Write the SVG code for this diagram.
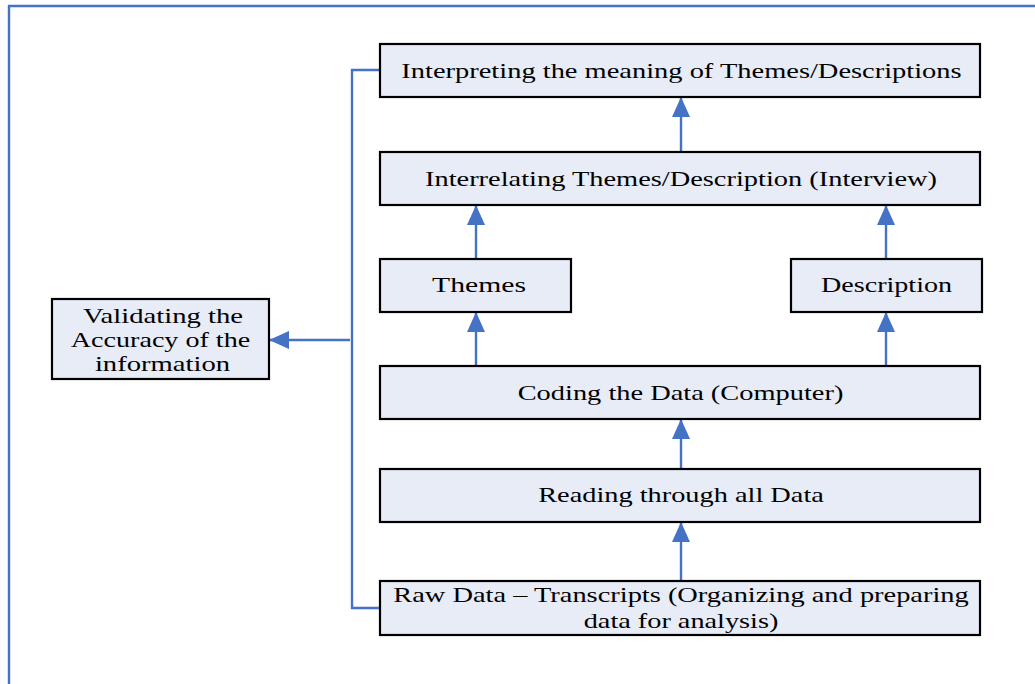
<svg xmlns="http://www.w3.org/2000/svg" width="1035" height="684" viewBox="0 0 1035 684">
  <style>
    .box { fill: #E7ECF7; stroke: #000; stroke-width: 2.2; }
    .lbl { font-family: "Liberation Serif", "Times New Roman", serif; font-size: 21px; fill: #000; text-anchor: middle; }
    .wire { fill: none; stroke: #4472C4; stroke-width: 2.4; }
  </style>
  <defs>
    <marker id="tip" viewBox="0 0 20 18" refX="20" refY="9" markerWidth="20" markerHeight="18" markerUnits="userSpaceOnUse" orient="auto">
      <path d="M0,0 L20,9 L0,18 Z" fill="#4472C4"/>
    </marker>
  </defs>

  <!-- outer frame -->
  <path d="M9,684 L9,6 L1035,6" fill="none" stroke="#4472C4" stroke-width="2.4"/>

  <!-- connectors -->
  <g id="connectors">
    <line class="wire" x1="681" y1="152" x2="681" y2="97" marker-end="url(#tip)"/>
    <line class="wire" x1="476" y1="259" x2="476" y2="205" marker-end="url(#tip)"/>
    <line class="wire" x1="886" y1="259" x2="886" y2="205" marker-end="url(#tip)"/>
    <line class="wire" x1="476" y1="366" x2="476" y2="312" marker-end="url(#tip)"/>
    <line class="wire" x1="886" y1="366" x2="886" y2="312" marker-end="url(#tip)"/>
    <line class="wire" x1="681" y1="469" x2="681" y2="419" marker-end="url(#tip)"/>
    <line class="wire" x1="681" y1="581" x2="681" y2="522" marker-end="url(#tip)"/>
    <path class="wire" d="M380,70 L352,70 L352,608 L380,608"/>
    <line class="wire" x1="350" y1="340" x2="269" y2="340" marker-end="url(#tip)"/>
  </g>

  <!-- labels are set in a wide Times face: scaled 1.38x horizontally -->
  <g id="interpreting">
    <rect class="box" x="380" y="44" width="600" height="53"/>
    <text class="lbl" transform="translate(681.5,78) scale(1.38,1)" textLength="406" lengthAdjust="spacingAndGlyphs">Interpreting the meaning of Themes/Descriptions</text>
  </g>
  <g id="interrelating">
    <rect class="box" x="380" y="152" width="600" height="53"/>
    <text class="lbl" transform="translate(681,186) scale(1.38,1)" textLength="371" lengthAdjust="spacingAndGlyphs">Interrelating Themes/Description (Interview)</text>
  </g>
  <g id="themes">
    <rect class="box" x="380" y="259" width="191" height="53"/>
    <text class="lbl" transform="translate(479,292) scale(1.38,1)" textLength="68" lengthAdjust="spacingAndGlyphs">Themes</text>
  </g>
  <g id="description">
    <rect class="box" x="791" y="259" width="191" height="53"/>
    <text class="lbl" transform="translate(886.5,292) scale(1.38,1)" textLength="95" lengthAdjust="spacingAndGlyphs">Description</text>
  </g>
  <g id="coding">
    <rect class="box" x="380" y="366" width="600" height="53"/>
    <text class="lbl" transform="translate(680.5,400) scale(1.38,1)" textLength="236" lengthAdjust="spacingAndGlyphs">Coding the Data (Computer)</text>
  </g>
  <g id="reading">
    <rect class="box" x="380" y="469" width="600" height="53"/>
    <text class="lbl" transform="translate(681,502) scale(1.38,1)" textLength="207" lengthAdjust="spacingAndGlyphs">Reading through all Data</text>
  </g>
  <g id="raw-data">
    <rect class="box" x="380" y="581" width="600" height="54"/>
    <text class="lbl" transform="translate(681,602) scale(1.38,1)" textLength="417" lengthAdjust="spacingAndGlyphs">Raw Data – Transcripts (Organizing and preparing</text>
    <text class="lbl" transform="translate(681,628) scale(1.38,1)" textLength="141" lengthAdjust="spacingAndGlyphs">data for analysis)</text>
  </g>
  <g id="validating">
    <rect class="box" x="52" y="299" width="217" height="80"/>
    <text class="lbl" transform="translate(163,323) scale(1.38,1)" textLength="116" lengthAdjust="spacingAndGlyphs">Validating the</text>
    <text class="lbl" transform="translate(160.5,347) scale(1.38,1)" textLength="130" lengthAdjust="spacingAndGlyphs">Accuracy of the</text>
    <text class="lbl" transform="translate(162.5,371) scale(1.38,1)" textLength="98" lengthAdjust="spacingAndGlyphs">information</text>
  </g>
</svg>
